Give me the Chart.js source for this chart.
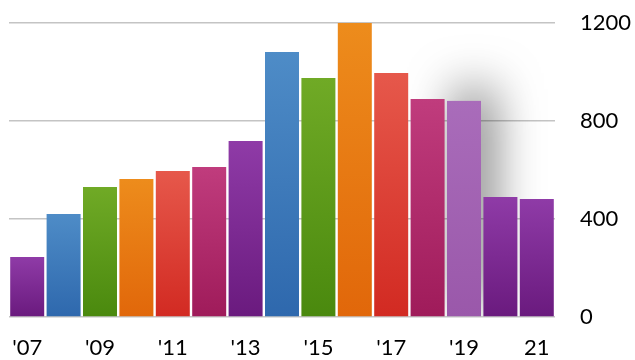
<!DOCTYPE html>
<html>
<head>
<meta charset="utf-8">
<script src="https://cdn.jsdelivr.net/npm/chart.js@4/dist/chart.umd.min.js"></script>
<style>
  html, body { margin: 0; padding: 0; background: #ffffff; overflow: hidden; }
  #wrap { width: 635px; height: 360px; position: relative; }
</style>
</head>
<body>
<div id="wrap"><canvas id="c" width="635" height="360"></canvas></div>
<script>
// Yearly totals, 2007 – 2021
const years = ['2007','2008','2009','2010','2011','2012','2013','2014','2015','2016','2017','2018','2019','2020','2021'];
const totals = [245, 420, 531, 563, 596, 612, 718, 1082, 976, 1200, 996, 890, 882, 490, 482];
// Labels shown under every second bar
const xTickLabels = ["'07", "'09", "'11", "'13", "'15", "'17", "'19", "21"];
const yTicks = [0, 400, 800, 1200];

// Top / bottom colour of each bar's vertical gradient
const palette = {
  purple:  ['#8f3ba7', '#6a1a7e'],
  blue:    ['#4e8cc7', '#2e68ad'],
  green:   ['#70aa26', '#4a890e'],
  orange:  ['#ed8c1c', '#e1670a'],
  red:     ['#e6584b', '#d22a22'],
  magenta: ['#c03c7d', '#9f1b5a'],
  lilac:   ['#a96cba', '#9a58aa']
};
const barColors = ['purple','blue','green','orange','red','magenta','purple','blue','green','orange','red','magenta','lilac','purple','purple'];
const highlighted = 12; // the 2019 bar casts a soft shadow

function barGradient(ctx) {
  const chart = ctx.chart;
  const pair = palette[barColors[ctx.dataIndex]];
  if (!chart.chartArea || !chart.scales.y) return pair[0];
  const y = chart.scales.y;
  const top = y.getPixelForValue(totals[ctx.dataIndex]);
  const bottom = y.getPixelForValue(0);
  const g = chart.ctx.createLinearGradient(0, top, 0, bottom);
  g.addColorStop(0, pair[0]);
  g.addColorStop(1, pair[1]);
  return g;
}

const shadowPlugin = {
  id: 'barShadow',
  beforeDatasetsDraw(chart) {
    const bar = chart.getDatasetMeta(0).data[highlighted];
    if (!bar) return;
    const p = bar.getProps(['x', 'y', 'base', 'width'], true);
    const a = chart.chartArea;
    const c = chart.ctx;
    c.save();
    // keep the shadow above the baseline
    c.beginPath();
    c.rect(0, 0, chart.width, a.bottom - 1);
    c.clip();
    c.shadowColor = 'rgba(0,0,0,0.6)';
    c.shadowBlur = 48;
    c.shadowOffsetX = 10;
    c.shadowOffsetY = -12;
    c.fillStyle = '#9a58aa';
    c.fillRect(p.x - p.width / 2, p.y, p.width, p.base - p.y);
    c.restore();
  }
};

new Chart(document.getElementById('c'), {
  type: 'bar',
  data: {
    labels: years,
    datasets: [{
      data: totals,
      backgroundColor: barGradient,
      borderWidth: 0,
      barPercentage: 0.934,
      categoryPercentage: 1.0
    }]
  },
  plugins: [shadowPlugin],
  options: {
    responsive: false,
    animation: false,
    events: [],
    layout: { padding: { left: 9, top: 23, right: 0, bottom: 0 } },
    plugins: { legend: { display: false }, tooltip: { enabled: false } },
    scales: {
      x: {
        grid: { display: false, drawTicks: false },
        border: { display: false },
        ticks: {
          autoSkip: false,
          maxRotation: 0,
          padding: 18,
          color: '#000000',
          font: { family: 'Lato', size: 22 },
          callback: (v, i) => (i % 2 === 0 ? xTickLabels[i / 2] : '')
        },
        afterFit: (s) => { s.height = 43; s.paddingLeft = 0; s.paddingRight = 0; }
      },
      y: {
        position: 'right',
        min: 0,
        max: 1200,
        grid: { color: '#c4c4c4', lineWidth: 1.5, drawTicks: false },
        border: { display: false },
        afterBuildTicks: (s) => { s.ticks = yTicks.map(v => ({ value: v })); },
        ticks: {
          padding: 25,
          color: '#000000',
          font: { family: 'Lato', size: 22 },
          callback: (v) => String(v)
        },
        afterFit: (s) => { s.width = 80; s.paddingTop = 0; s.paddingBottom = 0; }
      }
    }
  }
});
</script>
</body>
</html>
